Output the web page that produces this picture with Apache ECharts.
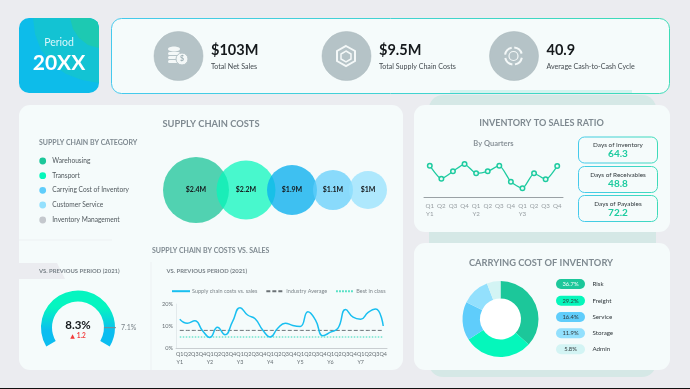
<!DOCTYPE html>
<html>
<head>
<meta charset="utf-8">
<script src="https://cdn.jsdelivr.net/npm/echarts@6/dist/echarts.min.js"></script>
<style>
  html, body {margin: 0; padding: 0; background: #ebecf0;}
  #main {width: 690px; height: 389px;}
</style>
</head>
<body>
<div id="main"></div>
<script>
const period = '20XX'
const kpiValues = ['$103M', '$9.5M', '40.9']
const kpiNames = ['Total Net Sales', 'Total Supply Chain Costs', 'Average Cash-to-Cash Cycle']

const costCategories = ['Warehousing', 'Transport', 'Carrying Cost of Inventory', 'Customer Service', 'Inventory Management']
const costValues = [2.4, 2.2, 1.9, 1.1, 1]

const gaugeValue = 8.3
const gaugeDelta = 1.2
const gaugePrevious = 7.1

const trendQuarters = ['Q1', 'Q2', 'Q3', 'Q4']
const trendYears = ['Y1', 'Y2', 'Y3', 'Y4', 'Y5', 'Y6', 'Y7']
const costsVsSales = [13.1, 11.3, 12.4, 8, 4.8, 9.4, 6, 12, 18.3, 15, 13.3, 8.2, 5, 9, 11.3, 10.2, 9.8, 16.5, 12.8, 5.6, 7.2, 9, 17.5, 14, 13.1, 16.2, 17.7, 10]
const industryAverage = 8
const bestInClass = 5

const ratioYears = ['Y1', 'Y2', 'Y3']
const ratioValues = [9.6, 5.7, 7.9, 10.1, 7.3, 7.9, 9.6, 4.8, 2.8, 7.3, 5.5, 9.5]

const dayNames = ['Days of Inventory', 'Days of Receivables', 'Days of Payables']
const dayValues = [64.3, 48.8, 72.2]

const carryNames = ['Risk', 'Freight', 'Service', 'Storage', 'Admin']
const carryValues = [36.7, 29.2, 16.4, 11.9, 5.8]

const fontName = 'Lato'
const panelColor = '#f5fbfb'
const titleColor = '#7f8a91'
const legendColors = ['#1cc79a', '#05f7bb', '#5fcdfb', '#93e0fd', '#c4c8cd']
const bubbleColors = ['rgba(18,194,148,0.72)', 'rgba(5,247,187,0.72)', 'rgba(10,175,238,0.78)', 'rgba(95,205,251,0.72)', 'rgba(147,224,253,0.72)']
const carryColors = ['#1cc79a', '#05f7bb', '#5fcdfb', '#93e0fd', '#d3f4f4']
const bubbleRadius = [33, 29.5, 25, 20, 19]
const bubbleOverlap = [12.5, 8.5, 4, 4]

const quarterLabels = years => years.flatMap(y => trendQuarters.map((q, i) => (i === 0 ? `${q}\n${y}` : q)))

const bubbleCenters = bubbleRadius.reduce((acc, r, i) => {
  if (i > 0) acc.push(acc[i - 1] + bubbleRadius[i - 1] + r - bubbleOverlap[i - 1])
  return acc
}, [0])

const text = (x, y, str, size, fill, extra = {}) => ({
  type: 'text',
  x,
  y,
  silent: true,
  style: {
    text: str,
    fontFamily: fontName,
    fontSize: size,
    fill,
    textAlign: extra.align || 'left',
    textVerticalAlign: 'middle',
    fontWeight: extra.weight || 'normal',
  },
})

const box = (x, y, width, height, r, fill, stroke) => ({
  type: 'rect',
  silent: true,
  shape: {x, y, width, height, r},
  style: {fill, stroke, lineWidth: stroke ? 1 : 0},
})

const borderGradient = new echarts.graphic.LinearGradient(0, 1, 1, 0, [
  {offset: 0, color: '#45c9ee'},
  {offset: 1, color: '#3ddcb6'},
])

const arcSegment = (cx, cy, r, start, end, width, color) => ({
  type: 'arc',
  silent: true,
  shape: {cx, cy, r, startAngle: start, endAngle: end},
  style: {stroke: color, lineWidth: width, fill: 'none'},
})

const kpiCenters = [178.5, 346.5, 514]
const kpiTextX = [211, 379, 546.5]

const iconColor = '#f4f8f8'
const coinIcon = [
  {type: 'ellipse', silent: true, shape: {cx: 174, cy: 49, rx: 6, ry: 2.5}, style: {fill: iconColor}},
  box(168, 52, 12, 3, 1.5, iconColor),
  box(168, 56, 12, 3, 1.5, iconColor),
  box(168, 60, 12, 3, 1.5, iconColor),
  {type: 'circle', silent: true, shape: {cx: 182, cy: 59, r: 6}, style: {fill: iconColor, stroke: '#b5c3c7', lineWidth: 1}},
  text(182, 59, '$', 7, '#9fb0b5', {align: 'center', weight: 'bold'}),
]
const hexIcon = [
  {type: 'polygon', silent: true, shape: {points: [[346, 46], [355, 51], [355, 61], [346, 66], [337, 61], [337, 51]]}, style: {fill: 'none', stroke: iconColor, lineWidth: 2}},
  {type: 'polygon', silent: true, shape: {points: [[346, 51], [351, 54], [351, 59], [346, 62], [341, 59], [341, 54]]}, style: {fill: 'none', stroke: iconColor, lineWidth: 1.5}},
]
const ringIcon = [
  arcSegment(513.5, 56, 8.5, 0.2, 1.4, 2, iconColor),
  arcSegment(513.5, 56, 8.5, 1.7, 2.9, 2, iconColor),
  arcSegment(513.5, 56, 8.5, 3.3, 4.5, 2, iconColor),
  arcSegment(513.5, 56, 8.5, 4.8, 6, 2, iconColor),
  arcSegment(513.5, 56, 4.5, 0, 6.283, 1.2, iconColor),
]

const backdrop = [
  box(429, 95, 227, 282, 14, '#d5e8e6'),
  box(0, 388, 690, 1, 0, '#111'),
]

// tile bands, corner kept inside the rounded rect
const periodTile = [
  box(19, 18, 80, 75, 10, '#0dbcea'),
  {type: 'polygon', silent: true, shape: {points: [[33, 18], [35, 34], [41, 50], [52, 64], [66, 74], [82, 80], [99, 83], [99, 28], [97.5, 22], [94, 19.5], [89, 18]]}, style: {fill: '#13c3d3'}},
  {type: 'polygon', silent: true, shape: {points: [[70, 18], [73, 29], [79, 38], [88, 45], [99, 48], [99, 28], [97.5, 22], [94, 19.5], [89, 18]]}, style: {fill: '#1dc9b2'}},
  text(59, 43, 'Period', 10.5, '#d8f6fa', {align: 'center'}),
  text(59, 63, period, 21, '#fff', {align: 'center', weight: 'bold'}),
]

const topCard = [
  box(111.5, 18.5, 558, 75, 10, panelColor, borderGradient),
  box(450, 90, 182, 3, 0, '#d3f3ef'),
  ...kpiCenters.map(cx => ({type: 'circle', silent: true, shape: {cx, cy: 56, r: 24.5}, style: {fill: '#b5c3c7', stroke: '#a9b7bb', lineWidth: 0.5}})),
  ...coinIcon,
  ...hexIcon,
  ...ringIcon,
  ...kpiValues.map((v, i) => text(kpiTextX[i], 50.5, v, 14.5, '#15191c', {weight: 'bold'})),
  ...kpiNames.map((v, i) => text(kpiTextX[i], 66.5, v, 7.1, '#444b50')),
]

const legendRows = [161, 175.7, 190.3, 205, 220]
const leftPanel = [
  box(19, 105, 384, 265, 11, panelColor),
  text(211, 123.5, 'SUPPLY CHAIN COSTS', 9.3, titleColor, {align: 'center', weight: 'bold'}),
  text(39, 143, 'SUPPLY CHAIN BY CATEGORY', 7, titleColor, {weight: 'bold'}),
  ...costCategories.map((name, i) => ({type: 'circle', silent: true, shape: {cx: 42.7, cy: legendRows[i], r: 3.4}, style: {fill: legendColors[i]}})),
  ...costCategories.map((name, i) => text(52.3, legendRows[i], name, 6.6, '#50585d')),
  {type: 'line', silent: true, shape: {x1: 19, y1: 240, x2: 112, y2: 240}, style: {stroke: '#edf1f3', lineWidth: 1}},
  {type: 'line', silent: true, shape: {x1: 151, y1: 262, x2: 151, y2: 370}, style: {stroke: '#edf1f3', lineWidth: 1}},
  {type: 'polygon', silent: true, shape: {points: [[19, 263], [57, 263], [65, 279], [19, 279]]}, style: {fill: '#ebecf0'}},
  text(39, 271, 'VS. PREVIOUS PERIOD (2021)', 5.9, '#7a8389', {weight: 'bold'}),
  text(152, 251, 'SUPPLY CHAIN BY COSTS VS. SALES', 7, titleColor, {weight: 'bold'}),
  text(166.5, 271, 'VS. PREVIOUS PERIOD (2021)', 5.9, '#7a8389', {weight: 'bold'}),
]

const dayCardTops = [137, 166.5, 195.5]
const rightTopPanel = [
  box(414, 105, 256, 127, 11, panelColor),
  text(541.5, 123.5, 'INVENTORY TO SALES RATIO', 9.1, titleColor, {align: 'center', weight: 'bold'}),
  text(493.5, 144, 'By Quarters', 7.5, '#8a9399', {align: 'center', weight: 'bold'}),
  ...dayNames.map((n, i) => box(578.5, dayCardTops[i], 79, 26, 6, panelColor, borderGradient)),
  ...dayNames.map((n, i) => text(618, dayCardTops[i] + 8, n, 6.4, '#30383c', {align: 'center'})),
  ...dayValues.map((v, i) => text(618, dayCardTops[i] + 17, v.toFixed(1), 10, '#1ccb9f', {align: 'center', weight: 'bold'})),
]

const pillRows = [284, 300.7, 317, 333.3, 349.3]
const rightBottomPanel = [
  box(414, 243, 256, 127, 11, panelColor),
  text(541, 262.5, 'CARRYING COST OF INVENTORY', 9.3, titleColor, {align: 'center', weight: 'bold'}),
  {type: 'circle', silent: true, shape: {cx: 500.5, cy: 319, r: 21}, style: {fill: '#fff'}},
  ...carryNames.map((n, i) => box(556, pillRows[i] - 5, 29, 10, 5, carryColors[i])),
  ...carryValues.map((v, i) => text(570.5, pillRows[i], `${v}%`, 5.8, i === 0 ? '#f4fffb' : '#30383c', {align: 'center'})),
  ...carryNames.map((n, i) => text(592.5, pillRows[i], n, 6.2, '#30383c')),
]

// 2021 tick across the gauge ring, placed from its value
const gaugeCenter = [78, 327.5]
const tickAngle = (217 - 254 * gaugePrevious / gaugeValue) * Math.PI / 180
const ringPoint = r => [gaugeCenter[0] + r * Math.cos(tickAngle), gaugeCenter[1] - r * Math.sin(tickAngle)]
const [tickX1, tickY1] = ringPoint(26)
const [tickX2, tickY2] = ringPoint(38)
const gaugeTick = [
  {type: 'line', z: 20, silent: true, shape: {x1: tickX1, y1: tickY1, x2: tickX2, y2: tickY2}, style: {stroke: '#7f8a90', lineWidth: 1}},
  text(tickX2 + 5, tickY2 + 0.5, `${gaugePrevious}%`, 7, '#7a8389'),
]

const trendLabels = quarterLabels(trendYears)
const ratioLabels = quarterLabels(ratioYears)

const option = {
  backgroundColor: '#ebecf0',
  animation: false,
  textStyle: {fontFamily: fontName},
  graphic: [{
    type: 'group',
    z: -1,
    silent: true,
    children: [...backdrop, ...periodTile, ...topCard, ...leftPanel, ...rightTopPanel, ...rightBottomPanel],
  }, {
    type: 'group',
    silent: true,
    children: gaugeTick,
  }],
  legend: {
    left: 171,
    top: 288,
    itemWidth: 18,
    itemHeight: 8,
    itemGap: 8,
    padding: 0,
    itemStyle: {opacity: 0},
    textStyle: {fontSize: 5.5, color: '#7f878c', fontFamily: fontName, padding: [0, 0, 0, -3]},
    data: ['Supply chain costs vs. sales', 'Industry Average', 'Best in class'],
  },
  grid: [
    {left: 163, top: 150, width: 224, height: 80},
    {left: 176, top: 304, width: 211, height: 44},
    {left: 424, top: 157.7, width: 139, height: 40},
  ],
  xAxis: [
    {gridIndex: 0, type: 'value', min: -33, max: 191, show: false},
    {
      gridIndex: 1,
      type: 'category',
      data: trendLabels,
      axisLine: {lineStyle: {color: '#c9ced1'}},
      axisTick: {length: 2, lineStyle: {color: '#c9ced1'}},
      axisLabel: {interval: 0, fontSize: 5.4, color: '#666e73', margin: 3, lineHeight: 7.5, fontFamily: fontName},
    },
    {
      gridIndex: 2,
      type: 'category',
      data: ratioLabels,
      axisLine: {lineStyle: {color: '#9aa1a5'}},
      axisTick: {length: 2, lineStyle: {color: '#9aa1a5'}},
      axisLabel: {interval: 0, fontSize: 6.2, color: '#969da1', margin: 4, lineHeight: 8.5, fontFamily: fontName},
    },
  ],
  yAxis: [
    {gridIndex: 0, type: 'value', min: -1, max: 1, show: false},
    {
      gridIndex: 1,
      type: 'value',
      min: 0,
      max: 20,
      interval: 10,
      splitLine: {show: false},
      axisLine: {show: true, lineStyle: {color: '#e3eaec'}},
      axisTick: {show: false},
      axisLabel: {formatter: '{value}%', fontSize: 5.6, color: '#666e73', margin: 3, fontFamily: fontName},
    },
    {gridIndex: 2, type: 'value', min: 0, max: 12, show: false},
  ],
  series: [
    {
      type: 'scatter',
      xAxisIndex: 0,
      yAxisIndex: 0,
      clip: false,
      data: costValues.map((v, i) => ({
        value: [bubbleCenters[i], 0, v],
        symbolSize: bubbleRadius[i] * 2,
        itemStyle: {color: bubbleColors[i], opacity: 1},
      })),
      label: {
        show: true,
        position: 'inside',
        formatter: p => `$${p.value[2]}M`,
        fontSize: 7,
        fontWeight: 'bold',
        color: '#15191c',
        fontFamily: fontName,
      },
    },
    {
      name: 'Supply chain costs vs. sales',
      type: 'line',
      xAxisIndex: 1,
      yAxisIndex: 1,
      smooth: 0.5,
      symbol: 'none',
      data: costsVsSales,
      z: 4,
      itemStyle: {color: '#19bff0'},
      lineStyle: {color: '#19bff0', width: 1.5},
    },
    {
      name: 'Industry Average',
      type: 'line',
      xAxisIndex: 1,
      yAxisIndex: 1,
      symbol: 'none',
      data: trendLabels.map(() => industryAverage),
      itemStyle: {color: '#6c7377'},
      lineStyle: {color: '#6c7377', width: 1, type: [4, 2]},
    },
    {
      name: 'Best in class',
      type: 'line',
      xAxisIndex: 1,
      yAxisIndex: 1,
      symbol: 'none',
      data: trendLabels.map(() => bestInClass),
      itemStyle: {color: '#2ddab8'},
      lineStyle: {color: '#2ddab8', width: 1, type: [1.5, 1.5]},
    },
    {
      type: 'line',
      xAxisIndex: 2,
      yAxisIndex: 2,
      smooth: 0.2,
      symbol: 'circle',
      symbolSize: 4.5,
      data: ratioValues,
      itemStyle: {color: '#eafaf6', borderColor: '#1ecba0', borderWidth: 1.5},
      lineStyle: {color: '#1ecba0', width: 1.3},
    },
    {
      type: 'gauge',
      center: gaugeCenter,
      radius: 37,
      min: 0,
      max: gaugeValue,
      startAngle: 211,
      endAngle: -31,
      axisLine: {lineStyle: {width: 11, color: [[1, 'rgba(0,0,0,0)']]}},
      progress: {
        show: true,
        width: 11,
        itemStyle: {
          color: new echarts.graphic.LinearGradient(0, 0, 0, 1, [
            {offset: 0.1, color: '#05f5c0'},
            {offset: 0.3, color: '#05f5c0'},
            {offset: 0.72, color: '#0bbdf0'},
          ]),
        },
      },
      axisTick: {show: false},
      splitLine: {show: false},
      axisLabel: {show: false},
      pointer: {show: false},
      title: {show: false},
      detail: {
        offsetCenter: [0, 2],
        lineHeight: 12,
        fontSize: 11,
        formatter: () => `{a|${gaugeValue}%}\n{b|▲}{c|${gaugeDelta}}`,
        rich: {
          a: {fontSize: 11.5, fontWeight: 'bold', color: '#15191c', lineHeight: 13, fontFamily: fontName},
          b: {fontSize: 6, color: '#f23b3b', lineHeight: 9, fontFamily: 'DejaVu Sans'},
          c: {fontSize: 6.5, color: '#f23b3b', lineHeight: 9, fontFamily: fontName, padding: [0, 0, 0, 2]},
        },
      },
      data: [{value: gaugeValue}],
    },
    {
      type: 'pie',
      center: [500.5, 319],
      radius: [20.5, 38],
      startAngle: 90,
      label: {show: false},
      labelLine: {show: false},
      itemStyle: {borderColor: panelColor, borderWidth: 0},
      data: carryValues.map((v, i) => ({name: carryNames[i], value: v, itemStyle: {color: carryColors[i]}})),
    },
  ],
}

const chart = echarts.init(document.getElementById('main'))
chart.setOption(option)
</script>
</body>
</html>
